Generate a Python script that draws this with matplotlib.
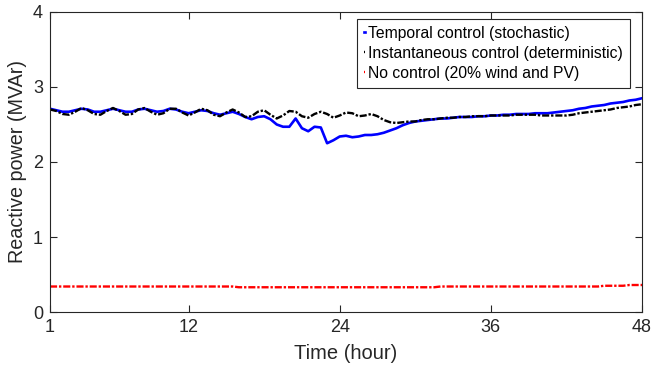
import matplotlib.pyplot as plt
import numpy as np

plt.rcParams['font.family'] = ['Liberation Sans', 'DejaVu Sans']

# half-hour samples over the two-day horizon
hours = np.arange(1, 48.01, 0.5)

temporal_stochastic = [
    2.71, 2.69, 2.67, 2.67, 2.69, 2.71, 2.70, 2.67, 2.67, 2.69,
    2.71, 2.69, 2.67, 2.67, 2.70, 2.71, 2.69, 2.67, 2.68, 2.71,
    2.70, 2.67, 2.65, 2.67, 2.69, 2.68, 2.65, 2.63, 2.65, 2.67,
    2.64, 2.60, 2.57, 2.60, 2.61, 2.57, 2.50, 2.47, 2.47, 2.58,
    2.45, 2.41, 2.47, 2.46, 2.25, 2.29, 2.34, 2.35, 2.33, 2.34,
    2.36, 2.36, 2.37, 2.39, 2.42, 2.45, 2.49, 2.52, 2.54, 2.55,
    2.56, 2.57, 2.58, 2.58, 2.59, 2.60, 2.60, 2.60, 2.61, 2.61,
    2.62, 2.62, 2.63, 2.63, 2.64, 2.64, 2.64, 2.65, 2.65, 2.65,
    2.66, 2.67, 2.68, 2.69, 2.71, 2.72, 2.74, 2.75, 2.76, 2.78,
    2.79, 2.80, 2.82, 2.83, 2.85,
]

instantaneous_deterministic = [
    2.70, 2.68, 2.64, 2.63, 2.67, 2.72, 2.69, 2.64, 2.63, 2.68,
    2.72, 2.68, 2.63, 2.64, 2.70, 2.72, 2.67, 2.63, 2.65, 2.71,
    2.71, 2.66, 2.62, 2.66, 2.71, 2.69, 2.63, 2.61, 2.66, 2.70,
    2.66, 2.60, 2.61, 2.67, 2.69, 2.63, 2.58, 2.62, 2.68, 2.67,
    2.61, 2.59, 2.64, 2.67, 2.64, 2.59, 2.62, 2.66, 2.65, 2.61,
    2.62, 2.64, 2.61, 2.56, 2.53, 2.52, 2.53, 2.54, 2.54, 2.56,
    2.57, 2.57, 2.58, 2.59, 2.59, 2.60, 2.60, 2.61, 2.61, 2.61,
    2.62, 2.62, 2.62, 2.62, 2.63, 2.63, 2.63, 2.63, 2.62, 2.62,
    2.62, 2.62, 2.62, 2.63, 2.65, 2.66, 2.67, 2.68, 2.69, 2.70,
    2.72, 2.73, 2.74, 2.76, 2.77,
]

no_control = [
    0.34, 0.34, 0.34, 0.34, 0.34, 0.34, 0.34, 0.34, 0.34, 0.34,
    0.34, 0.34, 0.34, 0.34, 0.34, 0.34, 0.34, 0.34, 0.34, 0.34,
    0.34, 0.34, 0.34, 0.34, 0.34, 0.34, 0.34, 0.34, 0.34, 0.34,
    0.33, 0.33, 0.33, 0.33, 0.33, 0.33, 0.33, 0.33, 0.33, 0.33,
    0.33, 0.33, 0.33, 0.33, 0.33, 0.33, 0.33, 0.33, 0.33, 0.33,
    0.33, 0.33, 0.33, 0.33, 0.33, 0.33, 0.33, 0.33, 0.33, 0.33,
    0.33, 0.33, 0.34, 0.34, 0.34, 0.34, 0.34, 0.34, 0.34, 0.34,
    0.34, 0.34, 0.34, 0.34, 0.34, 0.34, 0.34, 0.34, 0.34, 0.34,
    0.34, 0.34, 0.34, 0.34, 0.34, 0.34, 0.34, 0.34, 0.35, 0.35,
    0.35, 0.35, 0.36, 0.36, 0.36,
]

x_ticks = [1, 12, 24, 36, 48]
y_ticks = [0, 1, 2, 3, 4]

labels = [
    'Temporal control (stochastic)',
    'Instantaneous control (deterministic)',
    'No control (20% wind and PV)',
]

axis_grey = '#262626'

fig = plt.figure(figsize=(6.52, 3.71), dpi=100)
ax = fig.add_axes([0.0767, 0.159, 0.908, 0.8087])

ax.plot(hours, temporal_stochastic, color='#0000ff', linewidth=1.9,
        label=labels[0])
ax.plot(hours, instantaneous_deterministic, color='black', linewidth=1.7,
        linestyle=(0, (3, 0.8, 1, 0.8)), label=labels[1])
ax.plot(hours, no_control, color='#ff0000', linewidth=1.7,
        linestyle=(0, (3, 0.8, 1, 0.8)), label=labels[2])

ax.set_xlim(1, 48)
ax.set_ylim(0, 4)
ax.set_xticks(x_ticks)
ax.set_yticks(y_ticks)
ax.tick_params(direction='in', length=5, width=0.8, colors=axis_grey,
               labelsize=13, top=True, right=True, pad=5)
ax.tick_params(axis='x', labeltop=False)
for spine in ax.spines.values():
    spine.set_color(axis_grey)
    spine.set_linewidth(0.8)

ax.set_xlabel('Time (hour)', fontsize=14.5, color=axis_grey, labelpad=6)
ax.set_ylabel('Reactive power (MVAr)', fontsize=14.2, color=axis_grey,
              labelpad=4)

# the legend keeps only a short stub of each line at its left edge
leg = ax.legend(loc='upper right', bbox_to_anchor=(0.9797, 0.977),
                fontsize=11.3, frameon=True, fancybox=False, framealpha=1,
                edgecolor=axis_grey, handlelength=0.08, handletextpad=0.2,
                borderpad=0.45, labelspacing=0.32, borderaxespad=0)
leg.get_frame().set_linewidth(0.8)

fig.savefig('out.png', dpi=100)
